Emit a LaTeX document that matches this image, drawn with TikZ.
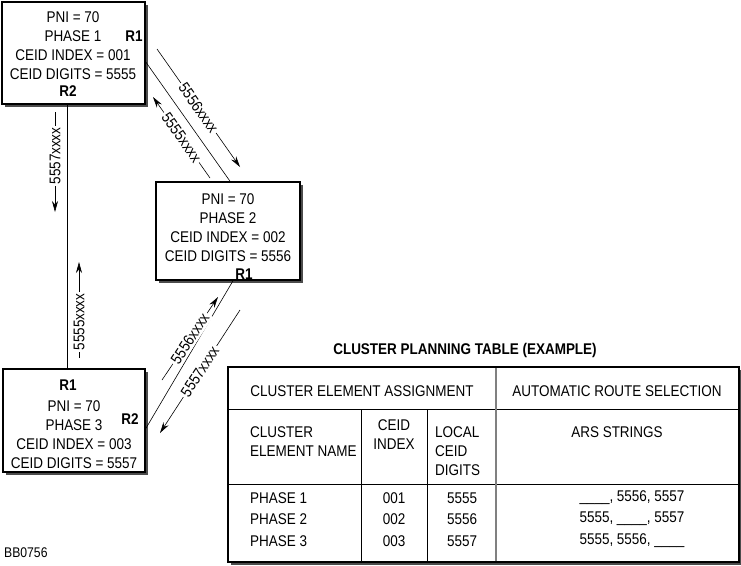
\documentclass[tikz,border=0pt]{standalone}
\usepackage{fontspec}
\setmainfont{Liberation Sans}[FakeStretch=0.87]
\usetikzlibrary{arrows.meta,calc,shadows}
\begin{document}
\begin{tikzpicture}[x=1pt,y=-1pt,
  every node/.style={font=\fontsize{15.5}{19}\selectfont, inner sep=0pt},
  box/.style={draw, line width=1.6pt, fill=white,
    drop shadow={shadow xshift=3pt, shadow yshift=-3pt, fill=black!70, opacity=1}},
  rlab/.style={font=\fontsize{15.5}{19}\selectfont\bfseries},
  conn/.style={line width=0.6pt},
  arr/.style={-{Stealth[length=11pt,width=6pt]}, line width=0.6pt},
  lab/.style={fill=white, inner sep=2pt},
  tline/.style={line width=0.8pt},
  small/.style={font=\fontsize{14}{16}\selectfont}]
\useasboundingbox (0,0) rectangle (741,565);

% boxes
\node[box, minimum width=143pt, minimum height=102pt] (p1) at (73.5,53) {};
\node[box, minimum width=144pt, minimum height=98pt] (p2) at (228,231) {};
\node[box, minimum width=142pt, minimum height=103pt] (p3) at (74,420.5) {};

\node[align=center] (t1) at (73,46) {PNI = 70\\PHASE 1\\CEID INDEX = 001\\CEID DIGITS = 5555};
\node[rlab] (p1r1) at (134,36) {R1};
\node[rlab] (p1r2) at (68,91) {R2};

\node[align=center] (t2) at (228,227.5) {PNI = 70\\PHASE 2\\CEID INDEX = 002\\CEID DIGITS = 5556};
\node[rlab] (p2r1) at (244,274) {R1};

\node[align=center] (t3) at (74,435) {PNI = 70\\PHASE 3\\CEID INDEX = 003\\CEID DIGITS = 5557};
\node[rlab] (p3r1) at (68,385) {R1};
\node[rlab] (p3r2) at (130,419) {R2};

% connectors between boxes
\coordinate (vx) at (67,0);
\draw[conn] (p1.south -| vx) -- (p3.north -| vx);
\path (p1.east) ++(0,9) coordinate (d1a);
\path (p2.north) ++(2,0) coordinate (d1b);
\draw[conn] (d1a) -- (d1b);
\path (p3.east) ++(0,8) coordinate (d2a);
\path (p2.south) ++(5,0) coordinate (d2b);
\draw[conn] (d2a) -- (d2b);

% route arrows
\coordinate (a1s) at (55,112); \coordinate (a1e) at (55,212);
\draw[arr] (a1s) -- node[lab, pos=0.44, rotate=90] (l1) {5557xxxx} (a1e);
\coordinate (a2s) at (79,358); \coordinate (a2e) at (79,262);
\draw[arr] (a2s) -- node[lab, pos=0.375, rotate=90] (l2) {5555xxxx} (a2e);
\coordinate (a3s) at (157,49); \coordinate (a3e) at (240,167);
\draw[arr] (a3s) -- node[lab, midway, rotate=-55] (l3) {5556xxxx} (a3e);
\coordinate (a4s) at (210,178); \coordinate (a4e) at (153,97);
\draw[arr] (a4s) -- node[lab, midway, rotate=-55] (l4) {5555xxxx} (a4e);
\coordinate (a5s) at (162,380); \coordinate (a5e) at (218,297);
\draw[arr] (a5s) -- node[lab, midway, rotate=57] (l5) {5556xxxx} (a5e);
\coordinate (a6s) at (240,310); \coordinate (a6e) at (160,433);
\draw[arr] (a6s) -- node[lab, midway, rotate=57] (l6) {5557xxxx} (a6e);

% table
\node[font=\fontsize{15.5}{19}\selectfont\bfseries] (title) at (465,350) {CLUSTER PLANNING TABLE (EXAMPLE)};
\fill[black!70] (231,370) rectangle (741,565);
\draw[line width=2pt, fill=white] (228,367) rectangle (739,562);
\draw[tline] (228,409) -- (739,409);
\draw[tline] (228,484) -- (739,484);
\draw[tline] (361,409) -- (361,562);
\draw[tline] (427,409) -- (427,562);
\draw[line width=1.6pt, black!50] (496,368) -- (496,561);

\node (h1) at (362,391) {CLUSTER ELEMENT ASSIGNMENT};
\node (h2) at (617,391) {AUTOMATIC ROUTE SELECTION};
\node[align=left, anchor=west] (s1) at (250,442) {CLUSTER\\ELEMENT NAME};
\node[align=center] (s2) at (394,434.5) {CEID\\INDEX};
\node[align=left, anchor=west] (s3) at (435,451) {LOCAL\\CEID\\DIGITS};
\node (s4) at (617,432) {ARS STRINGS};

\node[anchor=west] (r1a) at (250,498) {PHASE 1};
\node (r1b) at (394,498) {001};
\node (r1c) at (462,498) {5555};
\node (r1d) at (632,498) {\_\_\_\_, 5556, 5557};
\node[anchor=west] (r2a) at (250,519) {PHASE 2};
\node (r2b) at (394,519) {002};
\node (r2c) at (462,519) {5556};
\node (r2d) at (632,519) {5555, \_\_\_\_, 5557};
\node[anchor=west] (r3a) at (250,541) {PHASE 3};
\node (r3b) at (394,541) {003};
\node (r3c) at (462,541) {5557};
\node (r3d) at (632,541) {5555, 5556, \_\_\_\_};

\node[small, anchor=west] (code) at (4,553) {BB0756};
\end{tikzpicture}
\end{document}
